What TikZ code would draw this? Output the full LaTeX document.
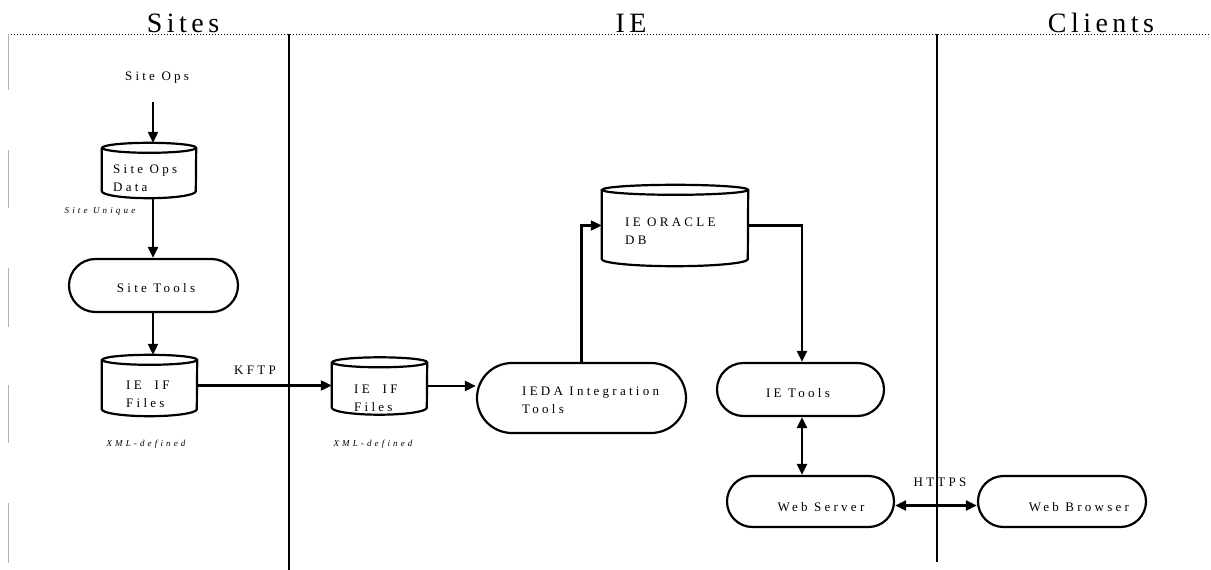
\documentclass[tikz,border=0pt]{standalone}
\usepackage{fontspec}
\setmainfont{Liberation Serif}
\newfontfamily\lsf[LetterSpace=25]{Liberation Serif}
\newfontfamily\lsnote[LetterSpace=35]{Liberation Serif}
\newfontfamily\lstitle[LetterSpace=16]{Liberation Serif}
\usetikzlibrary{arrows.meta,shapes.misc,calc}
\newcommand\cylpath[2]{%
  \draw[shp] ([yshift=-5pt]#1.north west) -- ([yshift=7pt]#1.south west)
    arc[start angle=180,end angle=360,x radius=#2,y radius=7pt]
    -- ([yshift=-5pt]#1.north east)
    arc[start angle=0,end angle=360,x radius=#2,y radius=5pt];}
\tikzset{
  shp/.style={draw=black,line width=2.2pt},
  cylbox/.style={inner sep=0pt},
  term/.style={rounded rectangle,draw=black,line width=2.2pt,inner sep=0pt},
  txt/.style={font=\lsf\fontsize{13}{18}\selectfont,align=left,inner sep=0pt},
  note/.style={font=\lsnote\itshape\fontsize{9}{11}\selectfont,inner sep=0pt,anchor=base},
  ttl/.style={font=\lstitle\fontsize{28}{30}\selectfont,inner sep=0pt,anchor=base},
  arr/.style={line width=2.2pt,-{Triangle[length=11pt,width=10pt]}},
  darr/.style={line width=2.2pt,{Triangle[length=11pt,width=10pt]}-{Triangle[length=11pt,width=10pt]}},
  divider/.style={line width=1.5pt,black},
  grayseg/.style={line width=1pt,black!30},
}
\begin{document}
\begin{tikzpicture}[x=1pt,y=-1pt]
\useasboundingbox (0,0) rectangle (1211,570);
% titles and frame
\draw[dotted,line width=1pt] (8,34) coordinate (tl) -- (1211,34) coordinate (tr);
\node[ttl] (tsites) at (183,32) {Sites};
\node[ttl] (tie) at (631,32) {IE};
\node[ttl] (tclients) at (1101,32) {Clients};
\coordinate (d1t) at (289,34); \coordinate (d1b) at (289,570);
\coordinate (d2t) at (937,34); \coordinate (d2b) at (937,562);
\draw[divider] (d1t) -- (d1b);
\draw[divider] (d2t) -- (d2b);
\foreach \a/\b in {34/90,150/208,268/327,385/443,503/563}
  \draw[grayseg] (8,\a) -- (8,\b);
% Sites column
\node[txt,anchor=base] (siteops) at (157,80) {Site Ops};
\coordinate (c1) at (153,102);
\node[cylbox,minimum width=94pt,minimum height=55pt] (sod) at (149,170.5) {};
\cylpath{sod}{47pt}
\node[txt,anchor=west] (sodt) at (113,178) {Site Ops\\Data};
\node[note] (su) at (100,213) {Site Unique};
\node[term,minimum width=169pt,minimum height=53pt] (st) at (153.5,285.5) {};
\node[txt,anchor=base] (stt) at (156,292) {Site Tools};
\node[cylbox,minimum width=95pt,minimum height=61pt] (if1) at (149.5,385.5) {};
\cylpath{if1}{47.5pt}
\node[txt,anchor=west] (if1t) at (126,394) {IE\ \ IF\\Files};
\node[note] (xml1) at (146,446) {XML-defined};
% IE column
\node[cylbox,minimum width=95pt,minimum height=57pt] (if2) at (379.5,386) {};
\cylpath{if2}{47.5pt}
\node[txt,anchor=west] (if2t) at (354,398) {IE\ \ IF\\Files};
\node[note] (xml2) at (373,446) {XML-defined};
\node[term,minimum width=209pt,minimum height=70pt] (ieda) at (581.5,398) {};
\node[txt,anchor=west] (iedat) at (522,400.5) {IEDA Integration\\Tools};
\node[cylbox,minimum width=146pt,minimum height=81pt] (ora) at (675,225.5) {};
\cylpath{ora}{73pt}
\node[txt,anchor=west] (orat) at (625,231) {IE ORACLE\\DB};
\node[term,minimum width=167pt,minimum height=53pt] (iet) at (800.5,389.5) {};
\node[txt,anchor=base] (iett) at (798,397) {IE Tools};
\node[term,minimum width=167pt,minimum height=51pt] (ws) at (810.5,501.5) {};
\node[txt,anchor=base] (wst) at (821,511) {Web Server};
% Clients column
\node[term,minimum width=168pt,minimum height=51pt] (wb) at (1062,501.5) {};
\node[txt,anchor=base] (wbt) at (1079,511) {Web Browser};
% connectors
\draw[arr] (c1) -- (c1 |- sod.north);
\draw[arr] (c1 |- sod.south) -- (c1 |- st.north);
\draw[arr] (c1 |- st.south) -- (c1 |- if1.north);
\draw[arr] (if1.east) -- (if1.east -| if2.west);
\node[txt,anchor=base] (kftp) at (255,374) {KFTP};
\draw[arr] (if2.east) -- (if2.east -| ieda.west);
\draw[arr] (ieda.north) |- (ora.west);
\coordinate (c2) at (802,300);
\draw[arr] (ora.east) -| (c2 |- iet.north);
\draw[darr] (c2 |- iet.south) -- (c2 |- ws.north);
\draw[darr] ([yshift=-4pt]ws.east) -- ([yshift=-4pt]wb.west);
\node[txt,anchor=base] (https) at (940,486) {HTTPS};
\end{tikzpicture}
\end{document}
